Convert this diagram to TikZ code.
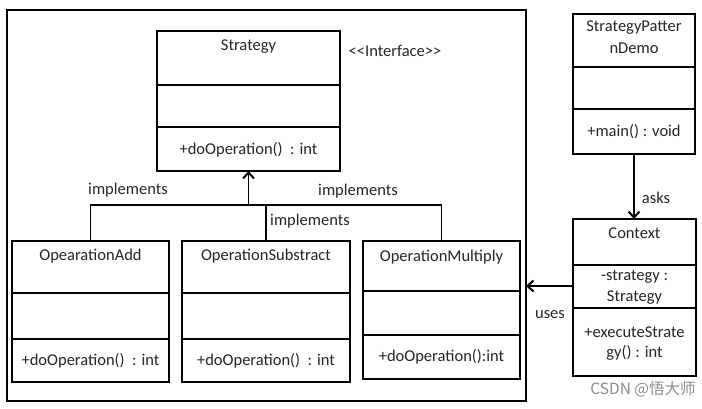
\documentclass[tikz,border=0pt]{standalone}
\usepackage{fontspec}
\setmainfont{Carlito}
\newfontfamily\cjkfont{Noto Sans CJK SC}
\usetikzlibrary{arrows.meta}
\begin{document}
\begin{tikzpicture}[x=1pt,y=-1pt,
  line width=1.8pt,
  box/.style={draw, line width=1.8pt, inner sep=0pt, outer sep=0pt, anchor=north west},
  txt/.style={inner sep=0pt, text=black!85, font=\fontsize{16.5}{19}\selectfont},
  conn/.style={line width=1.8pt},
  arr/.style={conn, -{Straight Barb[length=6pt,width=11pt,line width=2pt]}}
]
\useasboundingbox (0,0) rectangle (702,408);
\fill[white] (0,0) rectangle (702,408);
% frame
\node[box, minimum width=519pt, minimum height=391pt] (frame) at (7,10) {};
% Strategy
\node[box, minimum width=183pt, minimum height=140pt] (strategy) at (157,31) {};
\draw (157,85) -- (340,85);
\draw (157,127) -- (340,127);
\node[txt] (strategyname) at (248.5,47) {Strategy};
\node[txt] (strategyop) at (248.5,150) {+doOperation()~ : int};
\node[txt] (iface) at (395,51) {<{}<Interface>{}>};
% StrategyPatternDemo
\node[box, minimum width=122pt, minimum height=140pt] (spd) at (573,14) {};
\draw (573,67) -- (695,67);
\draw (573,109) -- (695,109);
\node[txt] (spdname1) at (634,28) {StrategyPatter};
\node[txt] (spdname2) at (634,48) {nDemo};
\node[txt] (spdop) at (634,132) {+main() : void};
% Context
\node[box, minimum width=123pt, minimum height=157pt] (ctx) at (573,219) {};
\draw (573,265) -- (696,265);
\draw (573,308) -- (696,308);
\node[txt] (ctxname) at (634.5,233) {Context};
\node[txt] (ctxattr1) at (634.5,277) {-strategy :};
\node[txt] (ctxattr2) at (634.5,298) {Strategy};
\node[txt] (ctxop1) at (634.5,332) {+executeStrate};
\node[txt] (ctxop2) at (634.5,353) {gy() : int};
% OpearationAdd
\node[box, minimum width=157pt, minimum height=141pt] (add) at (12,241) {};
\draw (12,293) -- (169,293);
\draw (12,339) -- (169,339);
\node[txt] (addname) at (90.5,256) {OpearationAdd};
\node[txt] (addop) at (90.5,361) {+doOperation()~ : int};
% OperationSubstract
\node[box, minimum width=168pt, minimum height=141pt] (sub) at (182,241) {};
\draw (182,293) -- (350,293);
\draw (182,339) -- (350,339);
\node[txt] (subname) at (266,256) {OperationSubstract};
\node[txt] (subop) at (266,361) {+doOperation()~ : int};
% OperationMultiply
\node[box, minimum width=157pt, minimum height=138pt] (mul) at (363,241) {};
\draw (363,291) -- (520,291);
\draw (363,335) -- (520,335);
\node[txt] (mulname) at (441.5,257) {OperationMultiply};
\node[txt] (mulop) at (441.5,357) {+doOperation():int};
% connectors
\coordinate (J) at (248.5,205);
\draw[conn] (add.north) |- (J);
\draw[conn] (mul.north) |- (J);
\draw[conn] (sub.north) -- (sub.north |- J);
\draw[arr] (J) -- (strategy.south);
\node[txt] (impl1) at (128,190) {implements};
\node[txt] (impl2) at (358,191) {implements};
\node[txt] (impl3) at (310,221) {implements};
\draw[arr] (spd.south) -- (spd.south |- ctx.north);
\node[txt] (asks) at (656,198) {asks};
\coordinate (U) at ([yshift=11.5pt]ctx.west);
\draw[arr] (U) -- (frame.east |- U);
\node[txt] (uses) at (550,315) {uses};
\node[inner sep=0pt, text=black!45, font=\cjkfont\fontsize{15.5}{17}\selectfont] (wm) at (643,389) {CSDN @悟大师};
\end{tikzpicture}
\end{document}
